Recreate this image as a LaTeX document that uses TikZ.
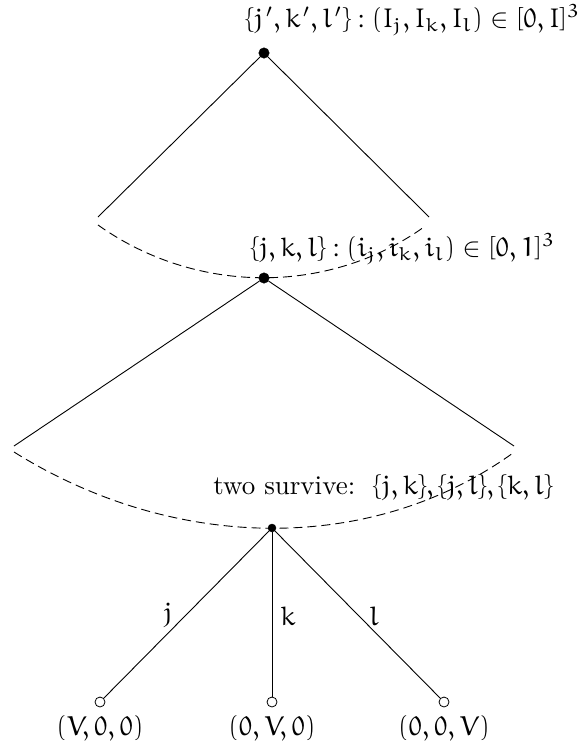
\documentclass[tikz,border=0pt]{standalone}
\IfFileExists{euler.sty}{\usepackage{euler}}{}
\begin{document}
\begin{tikzpicture}[x=1pt,y=-1pt,
  line/.style={line width=0.9pt},
  arcline/.style={line width=0.9pt, dash pattern=on 9pt off 5pt},
  bigdot/.style={circle, fill=black, draw=black, inner sep=0pt, minimum size=10.5pt},
  smalldot/.style={circle, fill=black, draw=black, inner sep=0pt, minimum size=8pt},
  leaf/.style={circle, fill=white, draw=black, line width=0.8pt, inner sep=0pt, minimum size=10pt},
  lbl/.style={inner sep=0pt, scale=2.7}]
\useasboundingbox (0,0) rectangle (581,747);

% level 1
\node[bigdot] (n1) at (264,53) {};
\coordinate (e1l) at (98,217);
\coordinate (e1r) at (429,217);
\coordinate (d1l) at (98,225);
\coordinate (d1r) at (424,227);
\draw[line] (n1) -- (e1l);
\draw[line] (n1) -- (e1r);
\draw[arcline] (d1l) .. controls (195,294) and (327,296) .. (d1r);
\node[lbl] (t1) at (413,20) {$\{j',k',l'\}:(I_j,I_k,I_l)\in[0,I]^3$};

% level 2
\node[bigdot] (n2) at (264,278) {};
\coordinate (e2l) at (14,446);
\coordinate (e2r) at (514,446);
\coordinate (d2l) at (14,452);
\coordinate (d2r) at (513,453);
\draw[line] (n2) -- (e2l);
\draw[line] (n2) -- (e2r);
\draw[arcline] (d2l) .. controls (176,553) and (373,554) .. (d2r);
\node[lbl] (t2) at (403,249) {$\{j,k,l\}:(i_j,i_k,i_l)\in[0,1]^3$};

% level 3
\node[smalldot] (n3) at (272,528) {};
\node[lbl] (t3) at (383,488) {two survive:\ \ $\{j,k\},\{j,l\},\{k,l\}$};
\node[leaf] (v1) at (100,702) {};
\node[leaf] (v2) at (272,702) {};
\node[leaf] (v3) at (444,702) {};
\draw[line] (n3) -- (v1);
\draw[line] (n3) -- (v2);
\draw[line] (n3) -- (v3);
\node[lbl] (j) at (168,615) {$j$};
\node[lbl] (k) at (288,616) {$k$};
\node[lbl] (l) at (374,616) {$l$};
\node[lbl] (p1) at (100,729) {$(V,0,0)$};
\node[lbl] (p2) at (272,729) {$(0,V,0)$};
\node[lbl] (p3) at (444,729) {$(0,0,V)$};
\end{tikzpicture}
\end{document}
